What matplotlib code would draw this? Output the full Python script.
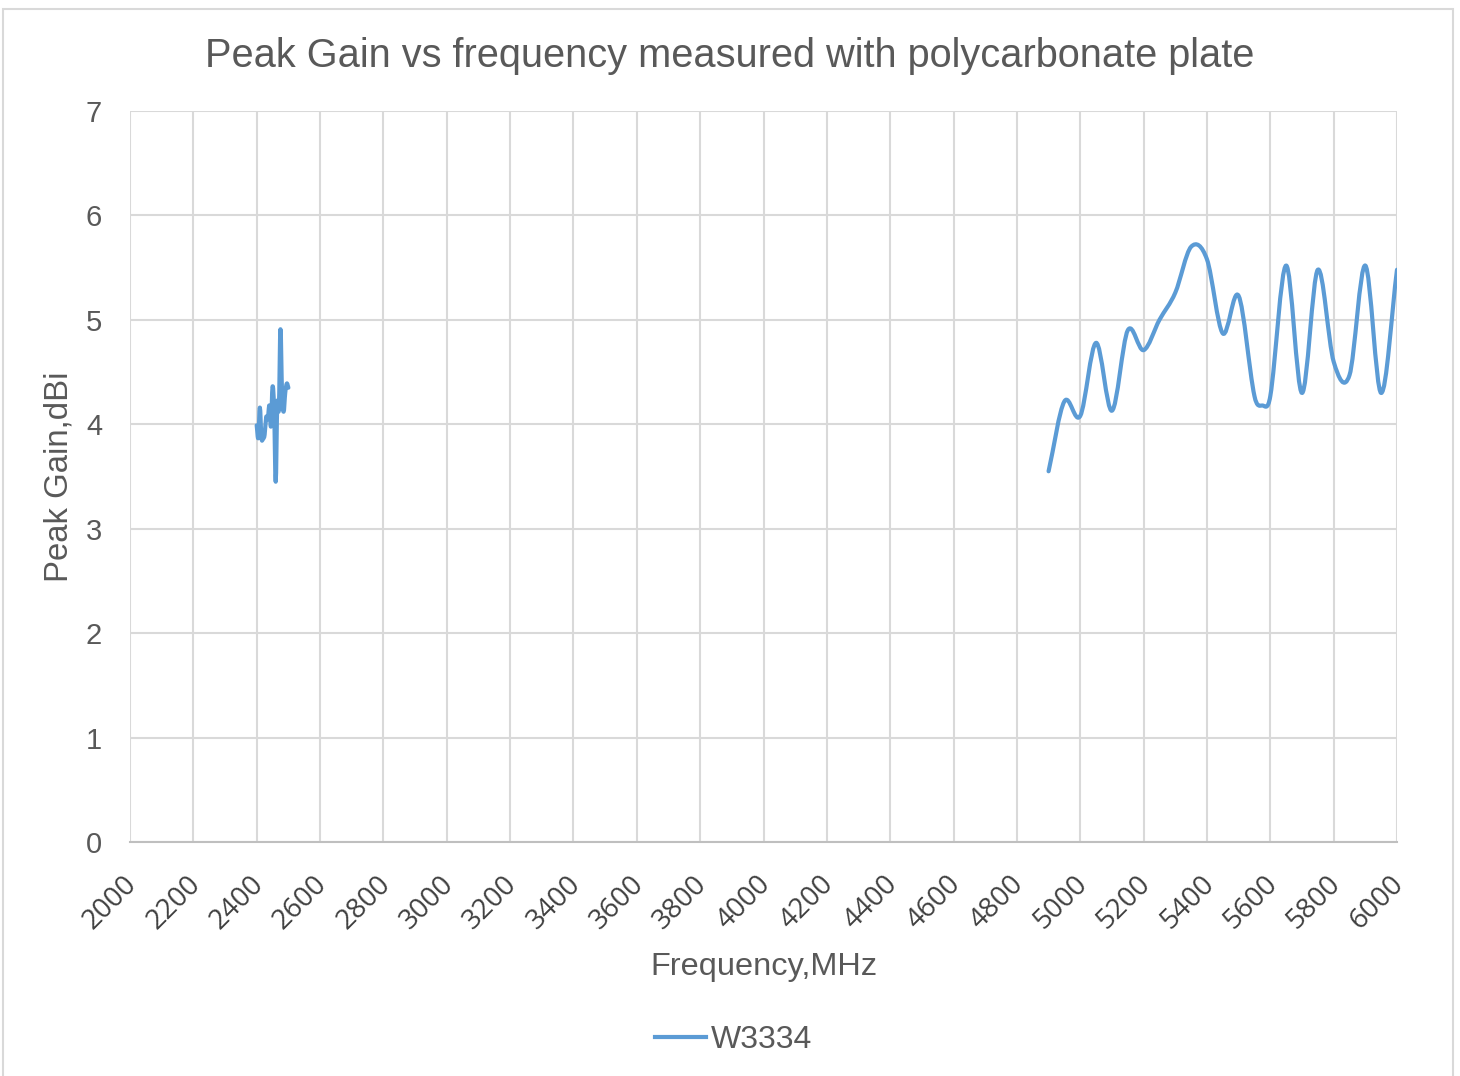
import numpy as np
import matplotlib
matplotlib.use("Agg")
import matplotlib.pyplot as plt
from matplotlib.path import Path
from matplotlib.patches import PathPatch, Rectangle
from matplotlib.lines import Line2D
from matplotlib.transforms import ScaledTranslation

plt.rcParams['font.family'] = ['Liberation Sans', 'DejaVu Sans']

# ---- data ----
freq_24 = [2400, 2405, 2410, 2415, 2420, 2425, 2430, 2435, 2440, 2445, 2450,
           2455, 2460, 2465, 2470, 2475, 2480, 2485, 2490, 2495, 2500]
gain_24 = [3.99, 3.87, 4.16, 3.87, 3.86, 3.90, 4.07, 4.05, 4.18, 3.98, 4.36,
           4.14, 3.45, 4.20, 4.15, 4.91, 4.30, 4.12, 4.30, 4.39, 4.35]
freq_5 = [4900, 4950, 5000, 5050, 5100, 5150, 5200, 5250, 5300, 5350, 5400, 5450,
          5500, 5550, 5575, 5600, 5650, 5700, 5750, 5800, 5850, 5900, 5950, 6000]
gain_5 = [3.55, 4.22, 4.08, 4.78, 4.13, 4.90, 4.71, 5.00, 5.26, 5.70, 5.58, 4.87,
          5.23, 4.27, 4.18, 4.27, 5.52, 4.30, 5.48, 4.60, 4.47, 5.52, 4.30, 5.48]
series_name = "W3334"
x_ticks = list(range(2000, 6001, 200))
y_ticks = list(range(0, 8))

title = "Peak Gain vs frequency measured with polycarbonate plate"
xlabel = "Frequency,MHz"
ylabel = "Peak Gain,dBi"

LINE_COLOR = "#5b9bd5"
TEXT_COLOR = "#595959"
GRID_COLOR = "#d9d9d9"


def smooth_path(xs, ys):
    """Smoothed line (cardinal-spline style) as cubic Bezier path through the points."""
    xs = np.asarray(xs, float)
    ys = np.asarray(ys, float)
    n = len(xs)
    m = np.zeros(n)
    for i in range(n):
        a = max(i - 1, 0)
        b = min(i + 1, n - 1)
        m[i] = (ys[b] - ys[a]) / (xs[b] - xs[a])
    verts = [(xs[0], ys[0])]
    codes = [Path.MOVETO]
    for i in range(n - 1):
        h = xs[i + 1] - xs[i]
        c1 = (xs[i] + h / 3, ys[i] + m[i] * h / 3)
        c2 = (xs[i + 1] - h / 3, ys[i + 1] - m[i + 1] * h / 3)
        verts += [c1, c2, (xs[i + 1], ys[i + 1])]
        codes += [Path.CURVE4] * 3
    return Path(verts, codes)


fig = plt.figure(figsize=(14.6, 10.76), dpi=100)
ax = fig.add_axes([130 / 1460, 1 - 842 / 1076, (1397 - 130) / 1460, (842 - 111) / 1076])

for fx, gy in ((freq_24, gain_24), (freq_5, gain_5)):
    patch = PathPatch(smooth_path(fx, gy), facecolor='none', edgecolor=LINE_COLOR,
                      lw=3.0, capstyle='round', joinstyle='round', zorder=3)
    ax.add_patch(patch)

ax.set_xlim(2000, 6000)
ax.set_ylim(0, 7)
ax.set_xticks(x_ticks)
ax.set_yticks(y_ticks)
ax.grid(True, color=GRID_COLOR, lw=1.5)
ax.set_axisbelow(True)
for s in ('top', 'right', 'left'):
    ax.spines[s].set_visible(False)
ax.spines['bottom'].set_color('#bfbfbf')
ax.spines['bottom'].set_linewidth(1.5)
ax.tick_params(length=0)
ax.tick_params(axis='y', pad=20, labelsize=21, labelcolor=TEXT_COLOR)
ax.tick_params(axis='x', pad=22, labelsize=20, labelcolor='#404040')
shift = ScaledTranslation(-7 / 100, 2 / 100, fig.dpi_scale_trans)
for lab in ax.get_xticklabels():
    lab.set_rotation(45)
    lab.set_ha('right')
    lab.set_va('top')
    lab.set_rotation_mode('anchor')
    lab.set_family(['Open Sans', 'DejaVu Sans'])
    lab.set_transform(lab.get_transform() + shift)

fig.text(0.5, 1 - 67 / 1076, title, fontsize=28.6, color=TEXT_COLOR,
         ha='center', va='baseline')
ax.set_xlabel(xlabel, fontsize=23.4, color=TEXT_COLOR)
ax.xaxis.set_label_coords(0.5, -(952 - 842) / 731)
ax.set_ylabel(ylabel, fontsize=23.7, color=TEXT_COLOR)
ax.yaxis.set_label_coords(-(130 - 74) / 1267, 0.5)

handle = Line2D([], [], color=LINE_COLOR, lw=3.0)
fig.legend([handle], [series_name], loc='center', bbox_to_anchor=(734 / 1460, 1 - 1040 / 1076),
           frameon=False, fontsize=23, labelcolor=TEXT_COLOR, handlelength=1.6,
           handletextpad=0.15)

fig.patches.append(Rectangle((3 / 1460, -0.01), (1453 - 3) / 1460, 1 - 9 / 1076 + 0.01,
                             transform=fig.transFigure, fill=False,
                             edgecolor=GRID_COLOR, lw=1.5))

fig.savefig("out.png", dpi=100, facecolor='white')
